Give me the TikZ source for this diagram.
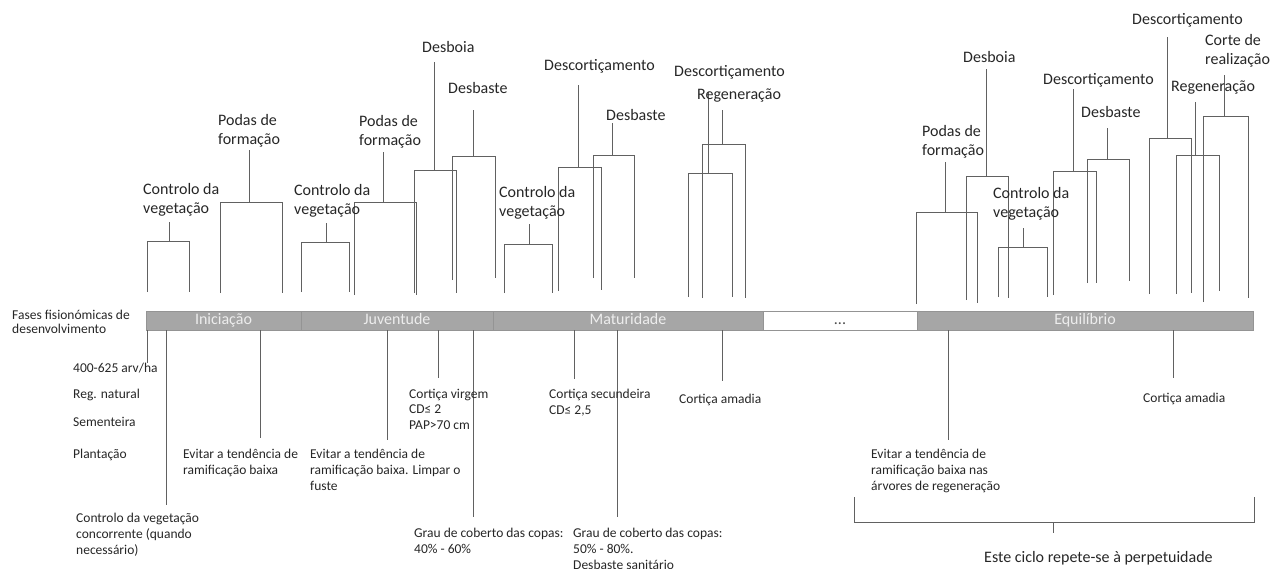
\documentclass[tikz,border=0pt]{standalone}
\usepackage{fontspec}
\setmainfont{Carlito}
\begin{document}
\begin{tikzpicture}[x=1pt,y=-1pt,
  ln/.style={draw=black!62,line width=0.7pt},
  big/.style={font=\fontsize{16}{19.5}\selectfont,text=black!85,inner sep=0pt,anchor=base west,align=left},
  small/.style={font=\fontsize{13.5}{16}\selectfont,text=black!85,inner sep=0pt,anchor=base west,align=left},
  seg/.style={draw=black!42,line width=0.9pt,fill=black!35,text=white!93!black,minimum height=19pt,inner sep=0pt,text height=10.5pt,text depth=3.5pt,font=\fontsize{16}{19}\selectfont},
  wseg/.style={seg,fill=white,text=black!70}
]
\useasboundingbox (0,0) rectangle (1286,568);
\newcommand\tbr[7]{\draw[ln] (#1,#4) -- (#1,#3) -- (#2,#3) -- (#2,#5); \draw[ln] (#6,#3) -- (#6,#7);}

% bar
\node[seg,minimum width=155pt] (ini) at (223.5,320.5) {Iniciação};
\node[seg,minimum width=192pt] (juv) at (397,320.5) {Juventude};
\node[seg,minimum width=270pt] (mat) at (628,320.5) {Maturidade};
\node[wseg,minimum width=154pt] (dots) at (840,320.5) {...};
\node[seg,minimum width=336pt] (equ) at (1085,320.5) {Equilíbrio};

\node[small] (fases) at (12,319) {Fases fisionómicas de};
\node[small] (fases2) at (12,333) {desenvolvimento};

% upper brackets
\tbr{147}{189}{241}{292}{292}{169}{222}
\tbr{220}{282}{202}{293}{293}{249}{150}
\tbr{301}{349}{242}{292}{292}{326}{223}
\tbr{354}{416}{202}{295}{295}{383}{152}
\tbr{414}{456}{170}{293}{293}{434}{62}
\tbr{452}{495}{156}{280}{278}{473}{110}
\tbr{504}{552}{244}{293}{293}{529}{224}
\tbr{558}{601}{167}{291}{290}{578}{85}
\tbr{593}{634}{155}{278}{278}{612}{123}
\tbr{688}{732}{173}{297}{297}{708}{92}
\tbr{702}{745}{144}{298}{298}{722}{110}
\tbr{916}{977}{212}{304}{303}{945}{162}
\tbr{966}{1008}{176}{300}{298}{986}{69}
\tbr{998}{1047}{247}{297}{297}{1023}{228}
\tbr{1053}{1096}{171}{295}{283}{1073}{89}
\tbr{1087}{1129}{159}{283}{281}{1107}{128}
\tbr{1149}{1191}{138}{294}{293}{1167}{37}
\tbr{1176}{1219}{155}{294}{291}{1195}{102}
\tbr{1203}{1248}{116}{302}{298}{1224}{75}

% upper labels (anchor = baseline of last line)
\node[big] (c1) at (143,213.5) {Controlo da\\vegetação};
\node[big] (p1) at (218,144.5) {Podas de\\formação};
\node[big] (c2) at (294,214.5) {Controlo da\\vegetação};
\node[big] (p2) at (359,145.5) {Podas de\\formação};
\node[big] (db1) at (422,52) {Desboia};
\node[big] (ds1) at (448,93) {Desbaste};
\node[big] (c3) at (499,216.5) {Controlo da\\vegetação};
\node[big] (dc1) at (544,70) {Descortiçamento};
\node[big] (ds2) at (606,120) {Desbaste};
\node[big] (dc2) at (674,76) {Descortiçamento};
\node[big] (rg1) at (697,99) {Regeneração};
\node[big] (p3) at (922,155.5) {Podas de\\formação};
\node[big] (db2) at (963,62) {Desboia};
\node[big] (c4) at (993,217.5) {Controlo da\\vegetação};
\node[big] (dc3) at (1043,84) {Descortiçamento};
\node[big] (ds3) at (1081,117) {Desbaste};
\node[big] (dc4) at (1132,24) {Descortiçamento};
\node[big] (rg2) at (1171,91) {Regeneração};
\node[big] (cr) at (1205,64.5) {Corte de\\realização};

% lower lines
\foreach \x/\y in {147/363,166/505,260/438,387/440,438/378,473/517,574/379,617/517,722/381,948/440,1173/378}
  \draw[ln] (\x,330) -- (\x,\y);

% lower labels (anchor = baseline of last line)
\node[small] (a1) at (73,372) {400-625 arv/ha};
\node[small] (a2) at (73,398) {Reg. natural};
\node[small] (a3) at (73,426) {Sementeira};
\node[small] (a4) at (73,458) {Plantação};
\node[small] (cv) at (76,554) {Controlo da vegetação\\concorrente (quando\\necessário)};
\node[small] (ev1) at (183,474) {Evitar a tendência de\\ramificação baixa};
\node[small] (ev2) at (310,490) {Evitar a tendência de\\ramificação baixa. Limpar o\\fuste};
\node[small,font=\fontsize{13.5}{15.5}\selectfont] (cvg) at (409,429) {Cortiça virgem\\CD≤ 2\\PAP>70 cm};
\node[small] (csc) at (549,414) {Cortiça secundeira\\CD≤ 2,5};
\node[small] (cam1) at (679,403) {Cortiça amadia};
\node[small] (gr1) at (414,553) {Grau de coberto das copas:\\40\% - 60\%};
\node[small] (gr2) at (573,569) {Grau de coberto das copas:\\50\% - 80\%.\\Desbaste sanitário};
\node[small] (ev3) at (871,490) {Evitar a tendência de\\ramificação baixa nas\\árvores de regeneração};
\node[small] (cam2) at (1143,402) {Cortiça amadia};

% cycle bracket
\coordinate (bl) at (854,497);
\coordinate (br) at (1254,497);
\draw[ln] (bl) -- (854,522) -- (1254,522) -- (br);
\draw[ln] (1053,522) -- (1053,533);
\node[big] (cyc) at (984,562) {Este ciclo repete-se à perpetuidade};
\end{tikzpicture}
\end{document}
